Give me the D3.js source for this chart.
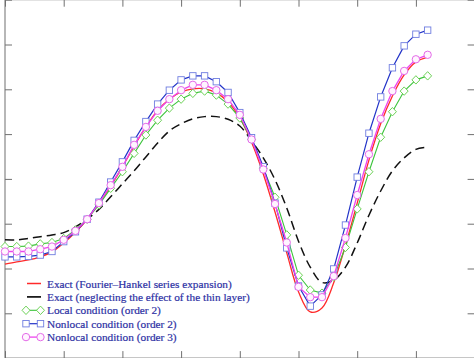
<!DOCTYPE html>
<html>
<head>
<meta charset="utf-8">
<script src="https://cdn.jsdelivr.net/npm/d3@7"></script>
<style>
html,body{margin:0;padding:0;background:#fff;overflow:hidden;}
svg{display:block;}
</style>
</head>
<body>
<svg id="chart" width="474" height="358"></svg>
<script>
// ---- data ----
const xValues = d3.range(37).map(i => +(i * 0.2).toFixed(1));
const exactFH = [2.10,2.15,2.19,2.26,2.37,2.57,2.81,3.10,3.46,3.84,4.27,4.73,5.16,5.53,5.78,5.94,6.01,6.01,5.92,5.72,5.36,4.82,4.11,3.26,2.35,1.48,1.03,1.12,1.68,2.52,3.46,4.42,5.23,5.85,6.32,6.61,6.72];
const exactNoLayer = [2.64,2.64,2.67,2.71,2.75,2.80,2.93,3.10,3.32,3.60,3.89,4.18,4.49,4.80,5.07,5.23,5.34,5.39,5.39,5.33,5.18,4.85,4.47,3.98,3.35,2.61,2.03,1.69,1.74,2.03,2.57,3.19,3.73,4.18,4.47,4.66,4.71];
const localOrder2 = [2.49,2.49,2.50,2.55,2.58,2.67,2.86,3.10,3.42,3.79,4.16,4.57,4.98,5.31,5.58,5.78,5.91,5.96,5.87,5.67,5.36,4.88,4.24,3.59,2.75,1.85,1.52,1.45,1.81,2.47,3.33,4.16,4.93,5.50,5.96,6.21,6.30];
const nonlocalOrder2 = [2.26,2.26,2.27,2.30,2.38,2.60,2.82,3.10,3.48,3.93,4.38,4.86,5.28,5.67,5.98,6.21,6.30,6.30,6.17,5.93,5.48,4.92,4.27,3.46,2.46,1.61,1.16,1.41,1.99,2.97,4.04,5.02,5.83,6.48,6.97,7.23,7.32];
const nonlocalOrder3 = [2.38,2.38,2.38,2.43,2.49,2.64,2.84,3.10,3.46,3.86,4.27,4.76,5.16,5.52,5.78,5.98,6.10,6.10,5.98,5.78,5.43,4.88,4.21,3.44,2.58,1.59,1.36,1.36,1.83,2.68,3.64,4.55,5.34,5.96,6.41,6.67,6.77];
const legendLabels = [
  "Exact (Fourier\u2013Hankel series expansion)",
  "Exact (neglecting the effect of the thin layer)",
  "Local condition (order 2)",
  "Nonlocal condition (order 2)",
  "Nonlocal condition (order 3)"
];
const xTicks = d3.range(0, 9);
const yTicks = d3.range(0, 9);

// ---- layout ----
const svg = d3.select("#chart");
const x = d3.scaleLinear().domain([0, 8]).range([5, 474.6]);
const y = d3.scaleLinear().domain([0, 8]).range([358.1, -0.3]);
const axisColor = "#707070";
const tickLen = 7;

// frame
svg.append("rect")
  .attr("x", x(0)).attr("y", y(8))
  .attr("width", x(8) - x(0)).attr("height", y(0) - y(8))
  .attr("fill", "none").attr("stroke", axisColor).attr("stroke-width", 1);

// ticks via d3 axes (inward, no labels)
const axisStyle = g => {
  g.select(".domain").remove();
  g.selectAll("text").remove();
  g.selectAll("line").attr("stroke", axisColor).attr("stroke-width", 1);
};
svg.append("g").attr("transform", `translate(0,${y(0)})`)
  .call(d3.axisBottom(x).tickValues(xTicks).tickSize(-tickLen).tickFormat("")).call(axisStyle);
svg.append("g").attr("transform", `translate(0,${y(8)})`)
  .call(d3.axisTop(x).tickValues(xTicks).tickSize(-tickLen).tickFormat("")).call(axisStyle);
svg.append("g").attr("transform", `translate(${x(0)},0)`)
  .call(d3.axisLeft(y).tickValues(yTicks).tickSize(-tickLen).tickFormat("")).call(axisStyle);
svg.append("g").attr("transform", `translate(${x(8)},0)`)
  .call(d3.axisRight(y).tickValues(yTicks).tickSize(-tickLen).tickFormat("")).call(axisStyle);

// ---- series ----
const smoothLine = d3.line().x((d, i) => x(xValues[i])).y(d => y(d)).curve(d3.curveCatmullRom.alpha(0.5));
const polyLine = d3.line().x((d, i) => x(xValues[i])).y(d => y(d));

const series = [
  {vals: exactFH, color: "#ff2a2a", width: 1.3, dash: null, marker: null, line: smoothLine},
  {vals: exactNoLayer, color: "#111111", width: 1.5, dash: "9,5", marker: null, line: smoothLine},
  {vals: localOrder2, color: "#3cc43c", width: 1.1, dash: null, marker: "diamond", mstroke: "#5ccc44", mfill: "#ffffff", line: polyLine},
  {vals: nonlocalOrder2, color: "#2233c8", width: 1.2, dash: null, marker: "square", mstroke: "#6f7de0", mfill: "#ffffff", line: polyLine},
  {vals: nonlocalOrder3, color: "#ee44ee", width: 1.3, dash: null, marker: "circle", mstroke: "#e46ae8", mfill: "#fff4ff", line: polyLine}
];

function drawMarker(g, type, cx, cy, stroke, fill) {
  if (type === "diamond") {
    g.append("path").attr("d", `M${cx},${cy-4.2}L${cx+4},${cy}L${cx},${cy+4.2}L${cx-4},${cy}Z`)
      .attr("fill", fill).attr("stroke", stroke).attr("stroke-width", 0.9);
  } else if (type === "square") {
    g.append("rect").attr("x", cx - 3.2).attr("y", cy - 3.2).attr("width", 6.4).attr("height", 6.4)
      .attr("fill", fill).attr("stroke", stroke).attr("stroke-width", 0.9);
  } else if (type === "circle") {
    g.append("circle").attr("cx", cx).attr("cy", cy).attr("r", 3.7)
      .attr("fill", fill).attr("stroke", stroke).attr("stroke-width", 1);
  }
}

series.forEach(s => {
  const g = svg.append("g");
  g.append("path").attr("d", s.line(s.vals))
    .attr("fill", "none").attr("stroke", s.color).attr("stroke-width", s.width)
    .attr("stroke-dasharray", s.dash).attr("stroke-linejoin", "round");
  if (s.marker) {
    s.vals.forEach((v, i) => drawMarker(g, s.marker, x(xValues[i]), y(v), s.mstroke, s.mfill));
  }
});

// ---- legend ----
const legend = svg.append("g");
const rowY0 = 283.5, rowStep = 13.4;
series.forEach((s, k) => {
  const cy = rowY0 + k * rowStep;
  const g = legend.append("g");
  if (!s.marker) {
    g.append("line").attr("x1", 27).attr("x2", 41).attr("y1", cy).attr("y2", cy)
      .attr("stroke", s.color).attr("stroke-width", s.width + 0.2);
  } else {
    g.append("line").attr("x1", 26).attr("x2", 41).attr("y1", cy).attr("y2", cy)
      .attr("stroke", s.color).attr("stroke-width", s.width);
    drawMarker(g, s.marker, 26, cy, s.mstroke, s.mfill);
    drawMarker(g, s.marker, 40.5, cy, s.mstroke, s.mfill);
  }
  g.append("text").attr("x", 47).attr("y", cy + 4)
    .attr("font-family", "'Liberation Serif','Times New Roman',serif")
    .attr("font-size", 11.3).attr("fill", "#2c30a4").attr("stroke", "#2c30a4").attr("stroke-width", 0.2)
    .text(legendLabels[k]);
});
</script>
</body>
</html>
